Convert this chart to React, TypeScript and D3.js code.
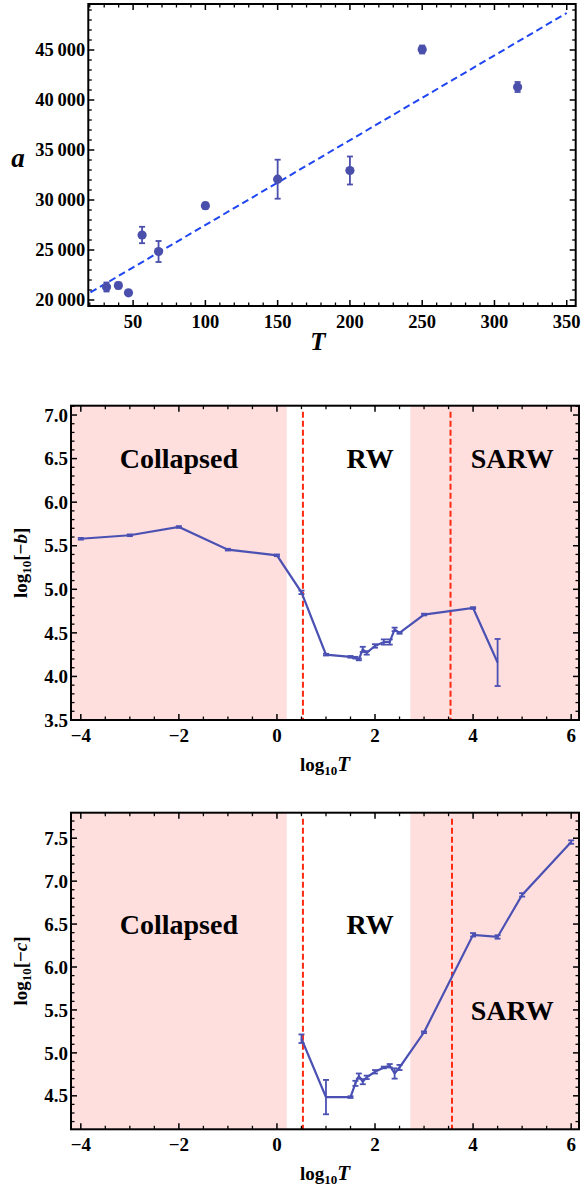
import * as d3 from "d3";

// ---- panel 1: a vs T ----
const tempT = [31.6, 39.8, 46.8, 56.2, 67.6, 100, 150, 200, 250, 316];
const aValues = [21300, 21450, 20720, 26500, 24850, 29430, 32080, 32950, 45050, 41300];
const aErrors = [450, 300, 150, 820, 1050, 300, 1950, 1400, 400, 500];
const fitIntercept = 19020;
const fitSlope = 84.8;
const fitRange = [20.5, 350];
const aTicks = [20000, 25000, 30000, 35000, 40000, 45000];
const tTicks = [50, 100, 150, 200, 250, 300, 350];

// ---- panel 2: log10(-b) vs log10 T ----
const logTb = [-4, -3, -2, -1, 0, 0.5, 1, 1.5, 1.6, 1.67, 1.75, 1.83, 2, 2.18, 2.3, 2.4, 2.5, 3, 4, 4.5];
const logB = [5.58, 5.62, 5.715, 5.455, 5.39, 4.965, 4.25, 4.225, 4.215, 4.195, 4.31, 4.27, 4.35, 4.395, 4.395, 4.54, 4.5, 4.71, 4.785, 4.16];
const logBErr = [0.01, 0.01, 0.01, 0.01, 0.01, 0.02, 0.01, 0.01, 0.01, 0.01, 0.03, 0.02, 0.02, 0.03, 0.03, 0.02, 0.01, 0.01, 0.01, 0.27];

// ---- panel 3: log10(-c) vs log10 T ----
const logTc = [0.5, 1, 1.5, 1.6, 1.67, 1.75, 1.83, 2, 2.18, 2.3, 2.4, 2.5, 3, 4, 4.5, 5, 6];
const logC = [5.165, 4.485, 4.485, 4.645, 4.73, 4.665, 4.715, 4.78, 4.83, 4.85, 4.76, 4.83, 5.24, 6.375, 6.35, 6.84, 7.455];
const logCErr = [0.05, 0.2, 0.01, 0.03, 0.03, 0.03, 0.02, 0.02, 0.01, 0.02, 0.06, 0.03, 0.01, 0.02, 0.02, 0.02, 0.02];

const logTTicks = [-4, -2, 0, 2, 4, 6];
const bTicks = [3.5, 4.0, 4.5, 5.0, 5.5, 6.0, 6.5, 7.0];
const cTicks = [4.5, 5.0, 5.5, 6.0, 6.5, 7.0, 7.5];
const regionBounds = [0.2, 2.72];
const bDashes = [0.53, 3.54];
const cDashes = [0.53, 3.57];
const regionNames = ["Collapsed", "RW", "SARW"];
const bLabelPos = [[-2, 6.5], [1.9, 6.5], [4.8, 6.5]];
const cLabelPos = [[-2, 6.5], [1.9, 6.5], [4.8, 5.5]];

const FONT = "Liberation Serif";
const POINT = "#4a4fab";
const LINE = "#4b51b3";
const FIT = "#1f46f2";
const PINK = "#ffdede";
const RED = "#ff2a12";

type Scale = d3.ScaleLinear<number, number>;

function Frame({
  x, y, xMajor, xMinor, yMajor, yMinor, xFmt, yFmt, fontSize,
}: {
  x: Scale; y: Scale; xMajor: number[]; xMinor: number[]; yMajor: number[]; yMinor: number[];
  xFmt: (v: number) => string; yFmt: (v: number) => string; fontSize: number;
}) {
  const [x0, x1] = x.range();
  const [y0, y1] = y.range(); // y0 bottom, y1 top
  const maj = 6;
  const min = 3.5;
  return (
    <g>
      {xMinor.map((v, i) => (
        <g key={"xm" + i} stroke="#000" strokeWidth={1.3}>
          <line x1={x(v)} x2={x(v)} y1={y0} y2={y0 - min} />
          <line x1={x(v)} x2={x(v)} y1={y1} y2={y1 + min} />
        </g>
      ))}
      {yMinor.map((v, i) => (
        <g key={"ym" + i} stroke="#000" strokeWidth={1.3}>
          <line x1={x0} x2={x0 + min} y1={y(v)} y2={y(v)} />
          <line x1={x1} x2={x1 - min} y1={y(v)} y2={y(v)} />
        </g>
      ))}
      {xMajor.map((v, i) => (
        <g key={"xM" + i}>
          <line x1={x(v)} x2={x(v)} y1={y0} y2={y0 - maj} stroke="#000" strokeWidth={1.5} />
          <line x1={x(v)} x2={x(v)} y1={y1} y2={y1 + maj} stroke="#000" strokeWidth={1.5} />
          <text x={x(v)} y={y0 + 22} textAnchor="middle" fontFamily={FONT} fontWeight="bold" fontSize={fontSize}>
            {xFmt(v)}
          </text>
        </g>
      ))}
      {yMajor.map((v, i) => (
        <g key={"yM" + i}>
          <line x1={x0} x2={x0 + maj} y1={y(v)} y2={y(v)} stroke="#000" strokeWidth={1.5} />
          <line x1={x1} x2={x1 - maj} y1={y(v)} y2={y(v)} stroke="#000" strokeWidth={1.5} />
          <text x={x0 - 3} y={y(v)} dy="0.35em" textAnchor="end" fontFamily={FONT} fontWeight="bold" fontSize={fontSize}>
            {yFmt(v)}
          </text>
        </g>
      ))}
      <rect x={x0} y={y1} width={x1 - x0} height={y0 - y1} fill="none" stroke="#000" strokeWidth={2} />
    </g>
  );
}

function ErrorBars({ xs, ys, es, x, y, color, cap }: {
  xs: number[]; ys: number[]; es: number[]; x: Scale; y: Scale; color: string; cap: number;
}) {
  return (
    <g stroke={color} strokeWidth={1.8}>
      {xs.map((v, i) => (
        <g key={i}>
          <line x1={x(v)} x2={x(v)} y1={y(ys[i] - es[i])} y2={y(ys[i] + es[i])} />
          <line x1={x(v) - cap} x2={x(v) + cap} y1={y(ys[i] - es[i])} y2={y(ys[i] - es[i])} />
          <line x1={x(v) - cap} x2={x(v) + cap} y1={y(ys[i] + es[i])} y2={y(ys[i] + es[i])} />
        </g>
      ))}
    </g>
  );
}

function LogPanel({
  top, bottom, yDomain, xs, ys, es, yTicks, dashes, labelPos, yVar,
}: {
  top: number; bottom: number; yDomain: [number, number]; xs: number[]; ys: number[]; es: number[];
  yTicks: number[]; dashes: number[]; labelPos: number[][]; yVar: string;
}) {
  const x = d3.scaleLinear().domain([-4.2, 6.16]).range([71, 579]);
  const y = d3.scaleLinear().domain(yDomain).range([bottom, top]);
  const xMinor = d3.range(-4, 6.01, 0.5).filter((v) => !logTTicks.includes(v));
  const yMinor = d3.range(Math.ceil(yDomain[0] * 10) / 10, yDomain[1], 0.1)
    .map((v) => Math.round(v * 10) / 10)
    .filter((v) => !yTicks.some((t) => Math.abs(t - v) < 1e-6));
  const line = d3.line<number>().x((d) => x(d)).y((_, i) => y(ys[i]));
  const [xl, xr] = x.range();
  const midY = (top + bottom) / 2;
  return (
    <g>
      <rect x={xl} y={top} width={x(regionBounds[0]) - xl} height={bottom - top} fill={PINK} />
      <rect x={x(regionBounds[1])} y={top} width={xr - x(regionBounds[1])} height={bottom - top} fill={PINK} />
      {dashes.map((d, i) => (
        <line key={i} x1={x(d)} x2={x(d)} y1={top + 6} y2={bottom} stroke={RED} strokeWidth={2} strokeDasharray="6,3" />
      ))}
      {regionNames.map((n, i) => (
        <text key={n} x={x(labelPos[i][0])} y={y(labelPos[i][1])} dy="0.35em" textAnchor="middle"
          fontFamily={FONT} fontWeight="bold" fontSize={28}>
          {n}
        </text>
      ))}
      <path d={line(xs) ?? undefined} fill="none" stroke={LINE} strokeWidth={2.2} />
      <ErrorBars xs={xs} ys={ys} es={es} x={x} y={y} color={LINE} cap={3} />
      <Frame x={x} y={y} xMajor={logTTicks} xMinor={xMinor} yMajor={yTicks} yMinor={yMinor}
        xFmt={(v) => (v < 0 ? "\u2212" + Math.abs(v) : String(v))} yFmt={(v) => v.toFixed(1)} fontSize={19} />
      <text x={(xl + xr) / 2} y={bottom + 51} textAnchor="middle" fontFamily={FONT} fontWeight="bold" fontSize={19}>
        log<tspan fontSize={13} dy={4}>10</tspan>
        <tspan dy={-4} fontStyle="italic" fontSize={21}>T</tspan>
      </text>
      <text transform={`translate(27,${midY}) rotate(-90)`} textAnchor="middle" fontFamily={FONT} fontWeight="bold" fontSize={19}>
        log<tspan fontSize={13} dy={4}>10</tspan>
        <tspan dy={-4}>[{"\u2212"}</tspan>
        <tspan fontStyle="italic">{yVar}</tspan>
        <tspan>]</tspan>
      </text>
    </g>
  );
}

export default function App() {
  const x = d3.scaleLinear().domain([19, 356.2]).range([88.3, 575.7]);
  const y = d3.scaleLinear().domain([19400, 49600]).range([306, 4]);
  const xMinor = d3.range(20, 351, 10).filter((v) => !tTicks.includes(v));
  const yMinor = d3.range(20000, 49001, 1000).filter((v) => !aTicks.includes(v));
  const fit = d3.line<number>().x((d) => x(d)).y((d) => y(fitIntercept + fitSlope * d));

  return (
    <svg width={582} height={1188} style={{ position: "absolute", left: 0, top: 0, background: "#fff" }}>
      {/* panel 1 */}
      <path d={fit(fitRange) ?? undefined} fill="none" stroke={FIT} strokeWidth={2} strokeDasharray="7,4" />
      <ErrorBars xs={tempT} ys={aValues} es={aErrors} x={x} y={y} color={POINT} cap={3} />
      {tempT.map((t, i) => (
        <circle key={i} cx={x(t)} cy={y(aValues[i])} r={4.6} fill={POINT} />
      ))}
      <Frame x={x} y={y} xMajor={tTicks} xMinor={xMinor} yMajor={aTicks} yMinor={yMinor}
        xFmt={(v) => String(v)} yFmt={(v) => `${Math.floor(v / 1000)}\u2009000`} fontSize={18.5} />
      <text x={18} y={158} dy="0.35em" textAnchor="middle" fontFamily={FONT} fontWeight="bold" fontStyle="italic" fontSize={27}>
        a
      </text>
      <text x={318} y={350} textAnchor="middle" fontFamily={FONT} fontWeight="bold" fontStyle="italic" fontSize={25}>
        T
      </text>

      {/* panel 2 */}
      <LogPanel top={405.7} bottom={720} yDomain={[3.5, 7.107]} xs={logTb} ys={logB} es={logBErr}
        yTicks={bTicks} dashes={bDashes} labelPos={bLabelPos} yVar="b" />

      {/* panel 3 */}
      <LogPanel top={812.7} bottom={1129.3} yDomain={[4.11, 7.797]} xs={logTc} ys={logC} es={logCErr}
        yTicks={cTicks} dashes={cDashes} labelPos={cLabelPos} yVar="c" />
    </svg>
  );
}
